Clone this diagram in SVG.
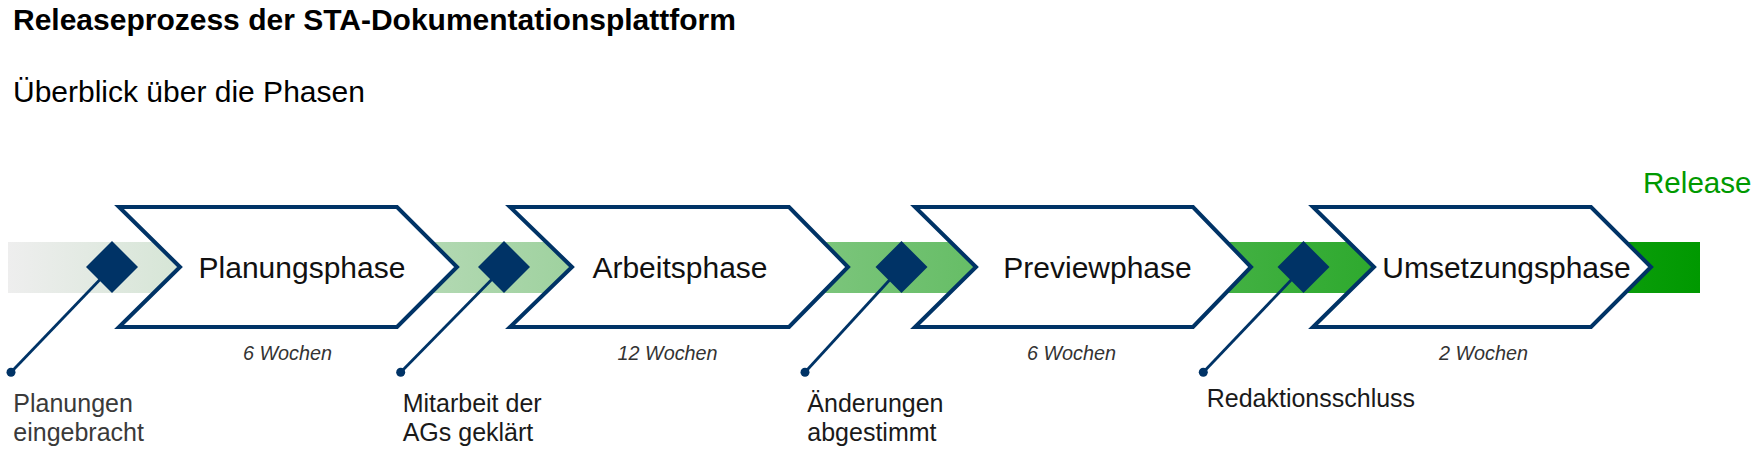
<svg xmlns="http://www.w3.org/2000/svg" width="1756" height="465" viewBox="0 0 1756 465">
<style>
text{font-family:"Liberation Sans",Arial,sans-serif}
.title{font-size:30px;font-weight:bold;fill:#000}
.sub{font-size:30px;fill:#000}
.chev{fill:#fff;stroke:#003366;stroke-width:4;stroke-linejoin:miter}
.clabel{font-size:30px;fill:#111;text-anchor:middle}
.dur{font-size:19.8px;font-style:italic;fill:#333;text-anchor:middle}
.ms{fill:#003366}
.mlabel{font-size:25px;fill:#1a1a1a}
.conn{stroke:#003366;stroke-width:2.8;fill:none}
.release{font-size:29.6px;fill:#009900}
</style>
<defs>
<linearGradient id="band" x1="8" y1="0" x2="1700" y2="0" gradientUnits="userSpaceOnUse">
<stop offset="0" stop-color="#eeeeee"/>
<stop offset="1" stop-color="#009900"/>
</linearGradient>
</defs>
<rect width="1756" height="465" fill="#fff"/>
<text class="title" x="13" y="30">Releaseprozess der STA-Dokumentationsplattform</text>
<text class="sub" x="13" y="102">Überblick über die Phasen</text>
<rect id="band" x="8" y="242" width="1692" height="51" fill="url(#band)"/>
<g id="connectors">
<line class="conn" x1="11" y1="372.3" x2="112" y2="267"/>
<line class="conn" x1="400.7" y1="372.3" x2="504" y2="267"/>
<line class="conn" x1="805" y1="372.3" x2="901.5" y2="267"/>
<line class="conn" x1="1203.3" y1="372.3" x2="1303.5" y2="267"/>
</g>
<g id="phase-planung">
<polygon class="chev" points="119,207 397,207 457,267 397,327 119,327 180,267"/>
<text class="clabel" x="302" y="278">Planungsphase</text>
<text class="dur" x="287.5" y="359.5">6 Wochen</text>
</g>
<g id="phase-arbeit">
<polygon class="chev" points="510,207 789,207 848,267 789,327 510,327 572,267"/>
<text class="clabel" x="680" y="278">Arbeitsphase</text>
<text class="dur" x="667.6" y="359.5">12 Wochen</text>
</g>
<g id="phase-preview">
<polygon class="chev" points="915,207 1193,207 1251,267 1193,327 915,327 976,267"/>
<text class="clabel" x="1097.5" y="278">Previewphase</text>
<text class="dur" x="1071.5" y="359.5">6 Wochen</text>
</g>
<g id="phase-umsetzung">
<polygon class="chev" points="1313,207 1591,207 1651,267 1591,327 1313,327 1374,267"/>
<text class="clabel" x="1506.5" y="278">Umsetzungsphase</text>
<text class="dur" x="1483.5" y="359.5">2 Wochen</text>
</g>
<g id="ms-planungen">
<polygon class="ms" points="112,241 138,267 112,293 86,267"/>
<circle class="ms" cx="11" cy="372.3" r="4.5"/>
<text class="mlabel" x="13.3" y="411.7" style="fill:#3a3a3a"><tspan x="13.3">Planungen</tspan><tspan x="13.3" y="441">eingebracht</tspan></text>
</g>
<g id="ms-mitarbeit">
<polygon class="ms" points="504,241 530,267 504,293 478,267"/>
<circle class="ms" cx="400.7" cy="372.3" r="4.5"/>
<text class="mlabel" x="402.7" y="411.7"><tspan x="402.7">Mitarbeit der</tspan><tspan x="402.7" y="441">AGs geklärt</tspan></text>
</g>
<g id="ms-aenderungen">
<polygon class="ms" points="901.5,241 927.5,267 901.5,293 875.5,267"/>
<circle class="ms" cx="805" cy="372.3" r="4.5"/>
<text class="mlabel" x="807.3" y="411.7"><tspan x="807.3">Änderungen</tspan><tspan x="807.3" y="441">abgestimmt</tspan></text>
</g>
<g id="ms-redaktion">
<polygon class="ms" points="1303.5,241 1329.5,267 1303.5,293 1277.5,267"/>
<circle class="ms" cx="1203.3" cy="372.3" r="4.5"/>
<text class="mlabel" x="1206.7" y="406.5">Redaktionsschluss</text>
</g>
<g id="release">
<text class="release" x="1643" y="193">Release</text>
</g>
</svg>
